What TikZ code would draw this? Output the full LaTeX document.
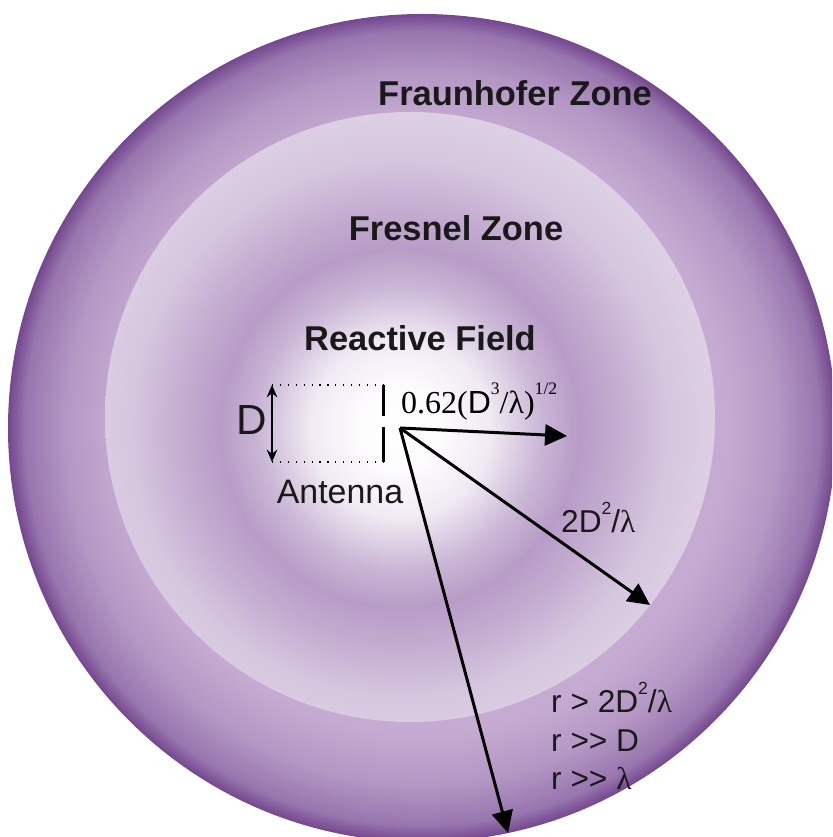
\documentclass[tikz,border=0pt]{standalone}
\usepackage{fontspec}
\setmainfont{Liberation Serif}
\setsansfont{Liberation Sans}
\usetikzlibrary{arrows.meta,positioning}
\usepackage{xcolor}

\definecolor{ringin}{HTML}{C5ABD1}
\definecolor{ringmid}{HTML}{B497C4}
\definecolor{ringout}{HTML}{9775AE}
\definecolor{ringedge}{HTML}{74478E}
\pgfdeclareradialshading{farzone}{\pgfpointorigin}{color(0bp)=(ringin); color(18.4bp)=(ringin); color(21.5bp)=(ringmid); color(24bp)=(ringout); color(25bp)=(ringedge); color(50bp)=(ringedge)}
\pgfdeclareradialshading{nearzone}{\pgfpointorigin}{color(0bp)=(white); color(3bp)=(white!95!violet!20); color(7bp)=(white!80!ringmid); color(11bp)=(white!30!ringmid); color(14bp)=(ringmid!95!white); color(17bp)=(white!20!ringmid); color(21bp)=(white!45!ringmid); color(25bp)=(white!55!ringmid); color(50bp)=(white!55!ringmid)}

\newcommand\hiexp[1]{\raisebox{0.6em}{\fontsize{10}{10}\selectfont #1}}

\tikzset{
  zone/.style={font=\sffamily\bfseries\fontsize{19.6}{23}\selectfont, text=black!90},
  lbl/.style={font=\sffamily\fontsize{18}{21}\selectfont, text=black!90},
  ray/.style={line width=1.7pt, -{Triangle[length=12.5pt,width=12pt]}},
  pole/.style={line width=1.7pt},
  guide/.style={line width=0.6pt, dash pattern=on 0.7pt off 3.8pt},
}

\begin{document}
\begin{tikzpicture}[x=0.02cm,y=0.02cm]
  \useasboundingbox (0,0) rectangle (832,837);
  \clip (0,0) rectangle (832,837);
  \shade[shading=farzone] (422,409) circle (414);
  \begin{scope}
    \clip (410,420) circle (305);
    \shade[shading=nearzone] (400,409) circle (320);
  \end{scope}

  \node[zone] (far) at (515,744) {Fraunhofer Zone};
  \node[zone] (fresnel) at (456,609) {Fresnel Zone};
  \node[zone] (reactive) at (420,499) {Reactive Field};

  \coordinate (poletop) at (383,452);
  \coordinate (polemidA) at (383,421);
  \coordinate (polemidB) at (383,410);
  \coordinate (polebot) at (383,375);
  \coordinate (dtop) at (272,452);
  \coordinate (dbot) at (272,375);
  \draw[pole] (poletop) -- (polemidA);
  \draw[pole] (polemidB) -- (polebot);
  \draw[guide] (dtop) -- (poletop);
  \draw[guide] (dbot) -- (polebot);
  \draw[line width=0.9pt, {Stealth[length=7pt,width=6pt]}-{Stealth[length=7pt,width=6pt]}] (dtop) -- (dbot);
  \node[lbl, font=\sffamily\fontsize{24}{28}\selectfont] (size) at (252,417) {D};
  \node[lbl, font=\sffamily\fontsize{19.3}{23}\selectfont] (antenna) at (340,345) {Antenna};

  \coordinate (src) at (400,409);
  \coordinate (tipreact) at (567,401);
  \coordinate (tipfres) at (650,232);
  \coordinate (tipfar) at (508,4);
  \draw[ray] (src) -- (tipreact);
  \draw[ray] (src) -- (tipfres);
  \draw[ray] (src) -- (tipfar);

  \node[anchor=base west, font=\fontsize{18.2}{21}\selectfont] (reach) at (395,423)
    {0.62({\sffamily D}\hiexp{3}/λ)\hiexp{1/2}};
  \node[lbl, anchor=base west] (fresreach) at (555,304) {2D\hiexp{2}/{\rmfamily λ}};
  \node[lbl, anchor=base west] (cond1) at (545,124) {r > 2D\hiexp{2}/{\rmfamily λ}};
  \node[lbl, anchor=base west] (cond2) at (545,85) {r >{}> D};
  \node[lbl, anchor=base west] (cond3) at (545,47) {r >{}> {\rmfamily λ}};
\end{tikzpicture}
\end{document}
